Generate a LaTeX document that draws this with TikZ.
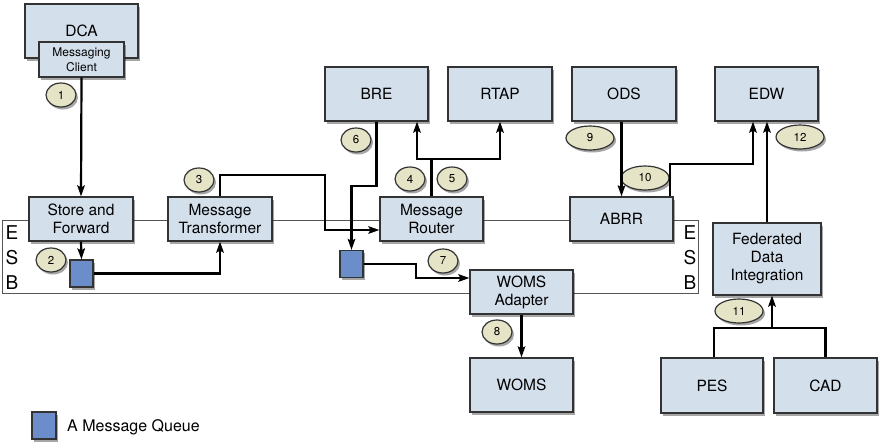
\documentclass[tikz,border=0pt]{standalone}
\usepackage{fontspec}
\setmainfont{TeX Gyre Heros}
\usetikzlibrary{arrows.meta,shadows,shapes.geometric}
\definecolor{boxfill}{HTML}{D4DFEC}
\definecolor{boxline}{HTML}{333333}
\definecolor{queuefill}{HTML}{6B8DC9}
\definecolor{circfill}{HTML}{E6E4C6}
\definecolor{esbline}{HTML}{555555}
\begin{document}
\begin{tikzpicture}[x=1pt,y=-1pt,
  shad/.style={drop shadow={shadow xshift=2pt,shadow yshift=-2.5pt,opacity=0.35,fill=black}},
  box/.style={shad,draw=boxline,line width=1.2pt,fill=boxfill,align=center,inner sep=0pt,
    minimum width=103,minimum height=44,font=\fontsize{15.5}{18}\selectfont},
  tall/.style={box,minimum height=54},
  queue/.style={shad,draw=boxline,line width=1.2pt,fill=queuefill,inner sep=0pt,minimum width=23,minimum height=27},
  num/.style={shad,ellipse,draw=boxline,line width=1.2pt,fill=circfill,inner sep=0pt,
    minimum width=30,minimum height=24,font=\fontsize{11.5}{11.5}\selectfont},
  wnum/.style={num,minimum width=48},
  esbtxt/.style={font=\fontsize{19}{19}\selectfont,inner sep=0pt},
  conn/.style={line width=2.2pt,-{Stealth[length=11pt,width=7.5pt,inset=2pt]}},
  plain/.style={line width=2.2pt}
]
\useasboundingbox (0,0) rectangle (885,447);

% ESB band
\draw[esbline,line width=1pt] (2,220) rectangle (698,293);
\node[esbtxt] (E1) at (12,233) {E};
\node[esbtxt] (S1) at (12,258) {S};
\node[esbtxt] (B1) at (12,283) {B};
\node[esbtxt] (E2) at (690,233) {E};
\node[esbtxt] (S2) at (690,258) {S};
\node[esbtxt] (B2) at (690,283) {B};

% boxes
\node[box,minimum width=113,minimum height=54] (DCA) at (81.5,31) {DCA};
\node[box,minimum width=85,minimum height=35,font=\fontsize{12}{15}\selectfont] (MC) at (81.5,59.5) {Messaging\\Client};
\node[box,minimum width=104] (SF) at (81,219) {Store and\\Forward};
\node[box,minimum width=104] (MT) at (220,219) {Message\\Transformer};
\node[box] (MR) at (431.5,219) {Message\\Router};
\node[tall] (BRE) at (376.5,94) {BRE};
\node[tall,minimum width=104] (RTAP) at (500,94) {RTAP};
\node[tall,minimum width=104] (ODS) at (624,94) {ODS};
\node[tall] (EDW) at (766.5,94) {EDW};
\node[box] (ABRR) at (621.5,219) {ABRR};
\node[box,minimum width=108,minimum height=72] (FDI) at (767,259) {Federated\\Data\\Integration};
\node[box] (WA) at (521.5,292) {WOMS\\Adapter};
\node[tall] (WOMS) at (521.5,385) {WOMS};
\node[tall,minimum width=102,minimum height=55] (PES) at (712,385.5) {PES};
\node[tall,minimum width=103,minimum height=55] (CAD) at (825.5,385.5) {CAD};

% queues
\node[queue] (Q1) at (81.5,273.5) {};
\node[queue] (Q2) at (351.5,264) {};

% numbers
\node[num] (n1) at (61,95) {1};
\node[num] (n2) at (51,260) {2};
\node[num] (n3) at (199,180) {3};
\node[num] (n4) at (410,179) {4};
\node[num] (n5) at (452,179) {5};
\node[num] (n6) at (356,140) {6};
\node[num] (n7) at (443,261) {7};
\node[num] (n8) at (497,332) {8};
\node[wnum] (n9) at (590,138) {9};
\node[wnum] (n10) at (645,178) {10};
\node[wnum] (n11) at (739,311) {11};
\node[wnum] (n12) at (800,137) {12};

% connectors
\draw[conn] (MC.south) -- (SF.north);
\draw[conn] (SF.south) -- (Q1.north);
\draw[conn] (Q1.east) -| (MT.south);
\draw[conn] (MT.north) |- (325,175) -- (325,230) -- (MR.west |- 0,230);
\draw[conn] (BRE.south) |- (351.5,186) -- (Q2.north);
\draw[conn] (Q2.east) -| (416,278) -- (WA.west |- 0,278);
\draw[plain] (MR.north) -- (431.5,159);
\coordinate (rt) at (431.5,159);
\draw[conn] (rt) -| (BRE.south -| 417,0);
\draw[conn] (rt) -| (RTAP.south);
\draw[conn] (WA.south) -- (WOMS.north);
\draw[conn] (ABRR.north |- ODS.south) -- (ABRR.north);
\draw[conn] (ABRR.north -| 670,0) |- (753,164) -- (EDW.south -| 753,0);
\draw[conn] (FDI.north) -- (FDI.north |- EDW.south);
\draw[plain] (PES.north -| 714,0) |- (825.5,328) -- (CAD.north);
\draw[conn] (772,328) -- (FDI.south -| 772,0);

% legend
\node[queue,minimum width=24] (LQ) at (44,425.5) {};
\node[anchor=west,inner sep=0pt,font=\fontsize{16}{16}\selectfont] (LT) at (67,427) {A Message Queue};
\end{tikzpicture}
\end{document}
